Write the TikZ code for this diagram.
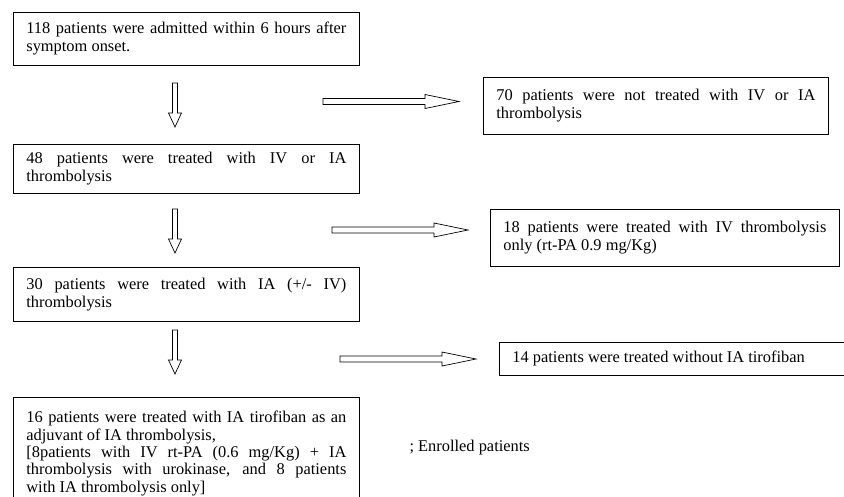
\documentclass[tikz,border=0pt]{standalone}
\usepackage{fontspec}
\setmainfont{Liberation Serif}
\usepackage{tikz}
\usetikzlibrary{calc}
\setlength{\parindent}{0pt}

\tikzset{
  flowbox/.style={draw, line width=0.8pt, anchor=north west, text width=#1,
    inner xsep=13pt, inner ysep=3pt, align=justify,
    font=\fontsize{16.4}{18}\selectfont},
  flowbox/.default=320pt,
  hollow/.style={draw, line width=0.7pt, fill=white, line join=miter},
  downarrow/.pic={
    \path[hollow] (-2.5,0) -- (-2.5,30) -- (-6.5,30) -- (0,44)
      -- (6.5,30) -- (2.5,30) -- (2.5,0) -- cycle;
  },
  rightarrow/.pic={
    \path[hollow] (0,-3) -- (102,-3) -- (102,-7) -- (136,0)
      -- (102,7) -- (102,3) -- (0,3) -- cycle;
  }
}

\begin{document}
\begin{tikzpicture}[x=1pt, y=-1pt, line cap=round]
\useasboundingbox (0,0) rectangle (844,496);

% --- Colonna di sinistra ---
\node[flowbox, minimum height=53pt] (admitted) at (13,12)
  {118 patients were admitted within 6 hours after\linebreak symptom onset.};
\node[flowbox, minimum height=49pt] (treated) at (13,144)
  {48 patients were treated with IV or IA\linebreak thrombolysis};
\node[flowbox, minimum height=54pt] (iatreated) at (13,267)
  {30 patients were treated with IA (+/- IV)\linebreak thrombolysis};
\node[flowbox, minimum height=112pt, font=\fontsize{16.4}{17.4}\selectfont] (tirofiban) at (13,397)
  {16 patients were treated with IA tirofiban as an\linebreak
   adjuvant of IA thrombolysis,\newline
   [8patients with IV rt-PA (0.6 mg/Kg) + IA\linebreak
   thrombolysis with urokinase, and 8 patients\linebreak
   with IA thrombolysis only]};

% --- Colonna di destra ---
\node[flowbox=319pt, minimum height=57pt] (nottreated) at (483,77)
  {70 patients were not treated with IV or IA\linebreak thrombolysis};
\node[flowbox=323pt, minimum height=57pt] (ivonly) at (490,209)
  {18 patients were treated with IV thrombolysis\linebreak only (rt-PA 0.9 mg/Kg)};
\node[flowbox=323pt, minimum height=33pt] (withouttiro) at (499,342)
  {14 patients were treated without IA tirofiban};

% --- Frecce ---
\pic at (175,83) {downarrow};
\pic at (175,209) {downarrow};
\pic at (175,330) {downarrow};
\pic at (323,101.5) {rightarrow};
\pic at (332,230) {rightarrow};
\pic at (340,359) {rightarrow};

% --- Legenda ---
\node[anchor=west, font=\fontsize{16.4}{18}\selectfont] (enrolled) at (406,448) {; Enrolled patients};
\end{tikzpicture}
\end{document}
